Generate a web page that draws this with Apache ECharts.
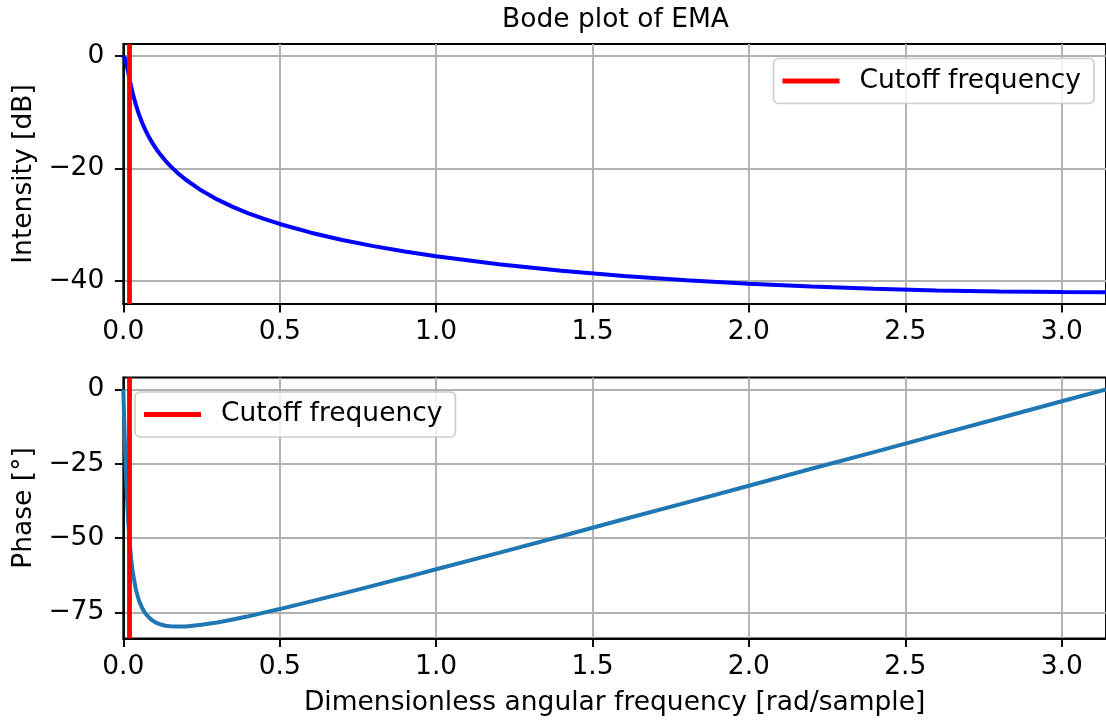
<!DOCTYPE html>
<html>
<head>
<meta charset="utf-8">
<script src="https://cdn.jsdelivr.net/npm/echarts@6/dist/echarts.min.js"></script>
<style>
html,body{margin:0;padding:0;background:#fff;}
#chart{width:1106px;height:722px;}
</style>
</head>
<body>
<div id="chart"></div>
<script>
// ---- data ----
const freq = [0, 0.003, 0.005, 0.0075, 0.01, 0.012, 0.016, 0.02, 0.025, 0.03,
  0.04, 0.05, 0.06, 0.07, 0.08, 0.09, 0.1, 0.11, 0.12, 0.135,
  0.15, 0.175, 0.2, 0.25, 0.3, 0.35, 0.4, 0.45, 0.5, 0.6,
  0.7, 0.8, 0.9, 1.0, 1.2, 1.4, 1.6, 1.8, 2.0, 2.2,
  2.4, 2.6, 2.8, 3.0, 3.1416];
const intensity = [0, -0.14, -0.40, -0.87, -1.45, -1.97, -3.05, -4.14, -5.43, -6.62,
  -8.68, -10.41, -11.87, -13.13, -14.24, -15.22, -16.11, -16.93, -17.66, -18.67,
  -19.57, -20.90, -22.04, -23.97, -25.53, -26.86, -28.00, -29.01, -29.90, -31.45,
  -32.74, -33.84, -34.80, -35.65, -37.07, -38.21, -39.15, -39.91, -40.53, -41.03,
  -41.42, -41.71, -41.90, -42.01, -42.03];
const phase = [0, -10.6, -17.4, -25.1, -32.0, -36.8, -44.9, -51.1, -56.9, -61.3,
  -67.3, -71.0, -73.5, -75.3, -76.5, -77.5, -78.2, -78.7, -79.1, -79.5,
  -79.7, -79.8, -79.8, -79.2, -78.4, -77.4, -76.3, -75.1, -73.9, -71.3,
  -68.7, -66.0, -63.3, -60.5, -55.0, -49.4, -43.7, -38.1, -32.4, -26.7,
  -21.1, -15.4, -9.7, -4.0, 0];
const cutoff = [0.016];
const xTicks = [0, 0.5, 1.0, 1.5, 2.0, 2.5, 3.0];
const yTicksTop = [0, -20, -40];
const yTicksBottom = [0, -25, -50, -75];
const xRange = [0, 3.1416];
const yRangeTop = [-44.13, 2.1];
const yRangeBottom = [-83.8, 4.0];
const titleText = 'Bode plot of EMA';
const xName = 'Dimensionless angular frequency [rad/sample]';
const yNameTop = 'Intensity [dB]';
const yNameBottom = 'Phase [°]';
const legendName = 'Cutoff frequency';

// ---- chart ----
const FONT = 'DejaVu Sans';
const FS = 26.5;
const fmtY = v => (v < 0 ? '\u2212' + Math.abs(v) : String(v));
const fmtX = v => Number(v).toFixed(1);
const pair = (xs, ys) => xs.map((x, i) => [x, ys[i]]);

function xAxisCfg(gi, withName) {
  return {
    type: 'value', gridIndex: gi, min: xRange[0], max: xRange[1],
    name: withName ? xName : '', nameLocation: 'middle', nameGap: 51,
    nameTextStyle: {fontFamily: FONT, fontSize: FS, color: '#000'},
    axisLine: {show: true, onZero: false, lineStyle: {color: '#000', width: 1.9}},
    axisTick: {show: true, length: 8.4, inside: false, customValues: xTicks, lineStyle: {color: '#000', width: 1.9}},
    axisLabel: {show: true, customValues: xTicks, formatter: fmtX, margin: 15, fontFamily: FONT, fontSize: FS, color: '#000'},
    splitLine: {show: true, lineStyle: {color: '#b0b0b0', width: 1.9}}
  };
}
function yAxisCfg(gi, range, ticks, name) {
  return {
    type: 'value', gridIndex: gi, min: range[0], max: range[1],
    name: name, nameLocation: 'middle', nameGap: 82, nameRotate: 90,
    nameTextStyle: {fontFamily: FONT, fontSize: FS, color: '#000'},
    axisLine: {show: true, onZero: false, lineStyle: {color: '#000', width: 1.9}},
    axisTick: {show: true, length: 8.4, inside: false, customValues: ticks, lineStyle: {color: '#000', width: 1.9}},
    axisLabel: {show: true, customValues: ticks, formatter: fmtY, margin: 19, fontFamily: FONT, fontSize: FS, color: '#000'},
    splitLine: {show: true, lineStyle: {color: '#b0b0b0', width: 1.9}}
  };
}
function legendCfg(left, top) {
  return {
    left: left, top: top, orient: 'vertical',
    data: [legendName],
    icon: 'rect', itemWidth: 57, itemHeight: 4.8,
    padding: [9, 13, 9, 9],
    backgroundColor: 'rgba(255,255,255,0.8)',
    borderColor: '#cccccc', borderWidth: 1.6, borderRadius: 5,
    selectedMode: false,
    textStyle: {fontFamily: FONT, fontSize: FS, color: '#000', padding: [0, 0, 0, 15]}
  };
}
function cutoffSeries(gi) {
  return {
    name: legendName, type: 'line', xAxisIndex: gi, yAxisIndex: gi,
    data: [], symbol: 'none',
    itemStyle: {color: '#ff0000'}, lineStyle: {color: '#ff0000', width: 4.8},
    markLine: {
      silent: true, symbol: ['none', 'none'], animation: false,
      label: {show: false},
      lineStyle: {color: '#ff0000', width: 4.8, type: 'solid'},
      emphasis: {disabled: true},
      data: cutoff.map(c => ({xAxis: c}))
    },
    z: 5
  };
}

const chart = echarts.init(document.getElementById('chart'), null, {renderer: 'canvas'});
chart.setOption({
  animation: false,
  backgroundColor: '#ffffff',
  graphic: [{
    type: 'text', x: 615.5, y: 7,
    style: {text: titleText, font: FS + 'px "' + FONT + '"', fill: '#000', align: 'center', verticalAlign: 'top'}
  }],
  grid: [
    {left: 123.3, top: 44, width: 984.3, height: 260, show: true, borderColor: '#000', borderWidth: 1.9, backgroundColor: '#fff', containLabel: false},
    {left: 123.3, top: 377.5, width: 984.3, height: 261, show: true, borderColor: '#000', borderWidth: 1.9, backgroundColor: '#fff', containLabel: false}
  ],
  xAxis: [xAxisCfg(0, false), xAxisCfg(1, true)],
  yAxis: [yAxisCfg(0, yRangeTop, yTicksTop, yNameTop), yAxisCfg(1, yRangeBottom, yTicksBottom, yNameBottom)],
  legend: [legendCfg(773.5, 58.5), legendCfg(135, 392)],
  series: [
    {
      name: 'intensity', type: 'line', xAxisIndex: 0, yAxisIndex: 0,
      data: pair(freq, intensity), symbol: 'none', showSymbol: false,
      lineStyle: {color: '#0000ff', width: 4}, itemStyle: {color: '#0000ff'}, z: 3
    },
    cutoffSeries(0),
    {
      name: 'phase', type: 'line', xAxisIndex: 1, yAxisIndex: 1,
      data: pair(freq, phase), symbol: 'none', showSymbol: false,
      lineStyle: {color: '#1f77b4', width: 4}, itemStyle: {color: '#1f77b4'}, z: 3
    },
    cutoffSeries(1)
  ]
});
</script>
</body>
</html>
